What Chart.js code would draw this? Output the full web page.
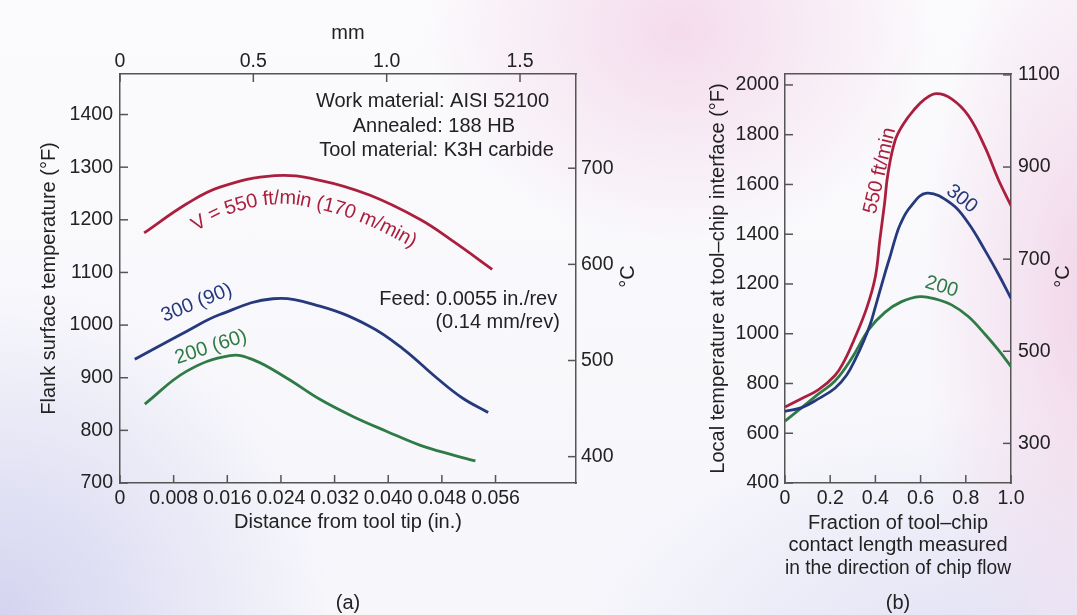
<!DOCTYPE html>
<html>
<head>
<meta charset="utf-8">
<script src="https://cdn.jsdelivr.net/npm/chart.js@4.4.1/dist/chart.umd.min.js"></script>
<style>
  html, body { margin: 0; padding: 0; }
  body {
    width: 1077px; height: 615px; overflow: hidden; position: relative;
    background:
      radial-gradient(ellipse 260px 220px at 680px 30px, rgba(243,214,233,0.85), rgba(243,214,233,0)),
      radial-gradient(ellipse 170px 420px at 1090px 300px, rgba(241,210,231,0.9), rgba(241,210,231,0)),
      radial-gradient(ellipse 330px 330px at 0px 615px, rgba(212,212,240,1), rgba(212,212,240,0)),
      radial-gradient(ellipse 380px 230px at 960px 640px, rgba(222,222,244,0.8), rgba(222,222,244,0)),
      linear-gradient(#fbfbfd, #f6f6fb);
  }
  canvas { position: absolute; top: 0; }
  #chartA { left: 0; }
  #chartB { left: 660px; }
</style>
</head>
<body>
<canvas id="chartA" width="660" height="615"></canvas>
<canvas id="chartB" width="417" height="615"></canvas>
<script>
// (a) flank surface temperature (°F) vs distance from tool tip (in.)
const distA550 = [0.0036, 0.0099, 0.0149, 0.0231, 0.0298, 0.0372, 0.0447, 0.0496, 0.0555];
const flankA550 = [1175, 1230, 1262, 1284, 1275, 1247, 1201, 1160, 1106];
const distA300 = [0.0022, 0.0099, 0.0149, 0.0228, 0.0298, 0.0372, 0.0422, 0.0472, 0.0510, 0.0549];
const flankA300 = [935, 988, 1020, 1050, 1036, 998, 955, 900, 862, 834];
const distA200 = [0.0037, 0.0099, 0.0164, 0.0199, 0.0249, 0.0298, 0.0348, 0.0398, 0.0447, 0.0497, 0.0530];
const flankA200 = [850, 912, 942, 934, 899, 859, 826, 798, 772, 753, 742];

// (b) local temperature (°F) vs fraction of tool-chip contact length
const fracB550 = [0, 0.07, 0.147, 0.221, 0.262, 0.302, 0.361, 0.40, 0.42, 0.44, 0.455, 0.487, 0.524, 0.568, 0.62, 0.671, 0.737, 0.811, 0.885, 0.944, 1.0];
const tempB550 = [705, 738, 774, 832, 890, 968, 1102, 1230, 1380, 1520, 1640, 1776, 1843, 1897, 1944, 1965, 1944, 1877, 1750, 1620, 1515];
const fracB300 = [0, 0.074, 0.147, 0.221, 0.273, 0.313, 0.347, 0.376, 0.398, 0.44, 0.468, 0.487, 0.51, 0.553, 0.627, 0.737, 0.811, 0.885, 0.944, 1.0];
const tempB300 = [688, 703, 738, 781, 834, 901, 968, 1035, 1102, 1236, 1320, 1380, 1440, 1508, 1565, 1522, 1445, 1335, 1240, 1142];
const fracB200 = [0, 0.074, 0.147, 0.221, 0.295, 0.369, 0.442, 0.516, 0.597, 0.664, 0.737, 0.811, 0.885, 0.944, 1.0];
const tempB200 = [649, 703, 757, 810, 901, 1015, 1086, 1129, 1149, 1140, 1116, 1069, 998, 935, 868];

// tick values and labels
const ticksInA = [0, 0.008, 0.016, 0.024, 0.032, 0.040, 0.048, 0.056];
const labelsInA = ['0', '0.008', '0.016', '0.024', '0.032', '0.040', '0.048', '0.056'];
const ticksMmA = [0, 0.5, 1.0, 1.5];
const labelsMmA = ['0', '0.5', '1.0', '1.5'];
const ticksFA = [700, 800, 900, 1000, 1100, 1200, 1300, 1400];
const ticksCA = [400, 500, 600, 700];
const ticksFracB = [0, 0.2, 0.4, 0.6, 0.8, 1.0];
const labelsFracB = ['0', '0.2', '0.4', '0.6', '0.8', '1.0'];
const ticksFB = [400, 600, 800, 1000, 1200, 1400, 1600, 1800, 2000];
const ticksCB = [300, 500, 700, 900, 1100];

const RED = '#ab1f3e', BLUE = '#25397c', GREEN = '#2e7b46';
const INK = '#222222', AXIS = '#555555';
const FONT = "'Liberation Sans', Arial, Helvetica, sans-serif";
const TICK = 8;

Chart.defaults.font.family = FONT;
Chart.defaults.font.size = 19.5;
Chart.defaults.color = INK;

function pairs(xs, ys) {
  return xs.map((x, i) => ({x: x, y: ys[i]}));
}

function line(xs, ys, color) {
  return {data: pairs(xs, ys), borderColor: color, borderWidth: 2.8, pointRadius: 0,
    tension: 0.4, fill: false};
}

function linAxis(o) {
  const ax = {
    type: 'linear', position: o.pos, min: o.min, max: o.max,
    grid: {display: false, drawTicks: false},
    border: {display: true, color: AXIS, width: 1.5},
    afterFit: s => { if (s.isHorizontal()) s.height = o.size; else s.width = o.size; },
    ticks: {display: !!o.ticks, padding: o.pad || 0, autoSkip: false, maxRotation: 0, color: INK,
      callback: (v, i) => o.labels ? o.labels[i] : String(v)},
    title: o.title ? {display: true, text: o.title, color: INK, padding: o.titlePad,
      font: {size: 20, lineHeight: o.titleLH || 1.2}} : {display: false}
  };
  if (o.ticks) ax.afterBuildTicks = s => { s.ticks = o.ticks.map(v => ({value: v})); };
  return ax;
}

// tick marks pointing into the plot
const innerTicks = {
  id: 'innerTicks',
  afterDraw(chart) {
    const ctx = chart.ctx, a = chart.chartArea;
    ctx.save();
    ctx.strokeStyle = AXIS;
    ctx.lineWidth = 1.5;
    Object.values(chart.scales).forEach(s => {
      if (!s.options.ticks.display) return;
      s.ticks.forEach(t => {
        const p = s.getPixelForValue(t.value);
        ctx.beginPath();
        if (s.position === 'left') { ctx.moveTo(a.left, p); ctx.lineTo(a.left + TICK, p); }
        if (s.position === 'right') { ctx.moveTo(a.right, p); ctx.lineTo(a.right - TICK, p); }
        if (s.position === 'bottom') { ctx.moveTo(p, a.bottom); ctx.lineTo(p, a.bottom - TICK); }
        if (s.position === 'top') { ctx.moveTo(p, a.top); ctx.lineTo(p, a.top + TICK); }
        ctx.stroke();
      });
    });
    ctx.restore();
  }
};

// lay a label along a dataset's drawn curve, shifted below it
function drawAlongCurve(chart, b) {
  const ctx = chart.ctx;
  const pts = chart.getDatasetMeta(b.dataset).data;
  const raw = [];
  for (let i = 0; i < pts.length - 1; i++) {
    const p = pts[i], q = pts[i + 1];
    const ax = p.cp2x ?? p.x, ay = p.cp2y ?? p.y, bx = q.cp1x ?? q.x, by = q.cp1y ?? q.y;
    for (let k = 0; k < 30; k++) {
      const t = k / 30, u = 1 - t;
      raw.push([u*u*u*p.x + 3*u*u*t*ax + 3*u*t*t*bx + t*t*t*q.x,
                u*u*u*p.y + 3*u*u*t*ay + 3*u*t*t*by + t*t*t*q.y]);
    }
  }
  const last = pts[pts.length - 1];
  raw.push([last.x, last.y]);
  const path = raw.map((r, j) => {
    const a = raw[Math.max(j - 2, 0)], c = raw[Math.min(j + 2, raw.length - 1)];
    const dx = c[0] - a[0], dy = c[1] - a[1], len = Math.hypot(dx, dy) || 1;
    return [r[0] - dy / len * b.offset, r[1] + dx / len * b.offset];
  });
  const dist = [0];
  for (let j = 1; j < path.length; j++) {
    dist.push(dist[j - 1] + Math.hypot(path[j][0] - path[j - 1][0], path[j][1] - path[j - 1][1]));
  }
  const cx = chart.scales.x.getPixelForValue(b.x);
  const jc = Math.max(path.findIndex(p => p[0] >= cx), 0);
  const total = ctx.measureText(b.text).width;
  ctx.fillStyle = b.color;
  ctx.textAlign = 'center';
  for (let i = 0; i < b.text.length; i++) {
    const ch = b.text[i];
    const s = dist[jc] - total / 2 + ctx.measureText(b.text.slice(0, i)).width + ctx.measureText(ch).width / 2;
    let j = 1;
    while (j < dist.length - 1 && dist[j] < s) j++;
    const f = (s - dist[j - 1]) / ((dist[j] - dist[j - 1]) || 1);
    const x = path[j - 1][0] + f * (path[j][0] - path[j - 1][0]);
    const y = path[j - 1][1] + f * (path[j][1] - path[j - 1][1]);
    const p0 = path[Math.max(j - 4, 0)], p1 = path[Math.min(j + 3, path.length - 1)];
    ctx.save();
    ctx.translate(x, y);
    ctx.rotate(Math.atan2(p1[1] - p0[1], p1[0] - p0[0]));
    ctx.fillText(ch, 0, 0);
    ctx.restore();
  }
}

function notesPlugin(notes, bends, caption, sideGap) {
  return {
    id: 'notes',
    afterDatasetsDraw(chart) {
      const ctx = chart.ctx, xs = chart.scales.x, ys = chart.scales.y;
      const a = chart.chartArea;
      ctx.save();
      ctx.font = '20px ' + FONT;
      ctx.textBaseline = 'middle';
      notes.forEach(n => {
        ctx.save();
        ctx.translate(xs.getPixelForValue(n.x), ys.getPixelForValue(n.y));
        ctx.rotate((n.rot || 0) * Math.PI / 180);
        ctx.fillStyle = n.color || INK;
        ctx.textAlign = n.align || 'center';
        ctx.fillText(n.text, 0, 0);
        ctx.restore();
      });
      bends.forEach(b => drawAlongCurve(chart, b));
      ctx.fillStyle = INK;
      ctx.textAlign = 'center';
      ctx.fillText(caption, (a.left + a.right) / 2, chart.height - 12);
      // right-hand axis title, read from bottom to top
      ctx.save();
      ctx.translate(chart.scales.y1.right - sideGap, (a.top + a.bottom) / 2 - 2);
      ctx.rotate(-Math.PI / 2);
      ctx.fillText('°C', 0, 0);
      ctx.restore();
      ctx.restore();
    }
  };
}

const baseOptions = {
  responsive: false,
  animation: false,
  layout: {padding: 0},
  plugins: {legend: {display: false}, tooltip: {enabled: false}}
};

new Chart(document.getElementById('chartA'), {
  type: 'line',
  data: {datasets: [
    line(distA550, flankA550, RED),
    line(distA300, flankA300, BLUE),
    line(distA200, flankA200, GREEN)
  ]},
  options: Object.assign({}, baseOptions, {
    scales: {
      x: linAxis({pos: 'bottom', min: 0, max: 0.068, ticks: ticksInA, labels: labelsInA, pad: 4, size: 132,
        title: 'Distance from tool tip (in.)', titlePad: {top: 0, bottom: 81}}),
      x2: linAxis({pos: 'top', min: 0, max: 1.71, ticks: ticksMmA, labels: labelsMmA, pad: 1, size: 74,
        title: 'mm', titlePad: {top: 21, bottom: 0}}),
      y: linAxis({pos: 'left', min: 700, max: 1477, ticks: ticksFA, pad: 7, size: 120,
        title: 'Flank surface temperature (°F)', titlePad: {top: 37, bottom: 0}}),
      y1: linAxis({pos: 'right', min: 372.6, max: 798, ticks: ticksCA, pad: 5, size: 84})
    }
  }),
  plugins: [innerTicks, notesPlugin([
    {text: 'Work material: AISI 52100', x: 0.0466, y: 1425},
    {text: 'Annealed: 188 HB', x: 0.0468, y: 1377},
    {text: 'Tool material: K3H carbide', x: 0.0472, y: 1331},
    {text: 'Feed: 0.0055 in./rev', x: 0.0652, y: 1048, align: 'right'},
    {text: '(0.14 mm/rev)', x: 0.0656, y: 1005, align: 'right'},
    {text: '300 (90)', x: 0.01144, y: 1042, color: BLUE, rot: -22},
    {text: '200 (60)', x: 0.01357, y: 958, color: GREEN, rot: -18}
  ], [
    {text: 'V = 550 ft/min (170 m/min)', dataset: 0, x: 0.0275, offset: 23, color: RED}
  ], '(a)', 32)]
});

new Chart(document.getElementById('chartB'), {
  type: 'line',
  data: {datasets: [
    line(fracB550, tempB550, RED),
    line(fracB300, tempB300, BLUE),
    line(fracB200, tempB200, GREEN)
  ]},
  options: Object.assign({}, baseOptions, {
    scales: {
      x: linAxis({pos: 'bottom', min: 0, max: 1, ticks: ticksFracB, labels: labelsFracB, pad: 4, size: 132,
        title: ['Fraction of tool–chip', 'contact length measured', 'in the direction of chip flow'],
        titlePad: {top: 0, bottom: 35.5}, titleLH: 1.13}),
      x2: linAxis({pos: 'top', min: 0, max: 1, size: 74}),
      y: linAxis({pos: 'left', min: 400, max: 2044, ticks: ticksFB, pad: 6, size: 125,
        title: 'Local temperature at tool–chip interface (°F)', titlePad: {top: 46, bottom: 0}}),
      y1: linAxis({pos: 'right', min: 214, max: 1102, ticks: ticksCB, pad: 7, size: 66})
    }
  }),
  plugins: [innerTicks, notesPlugin([
    {text: '550 ft/min', x: 0.42, y: 1655, color: RED, rot: -77},
    {text: '300', x: 0.782, y: 1542, color: BLUE, rot: 38},
    {text: '200', x: 0.693, y: 1188, color: GREEN, rot: 17}
  ], [], '(b)', 14)]
});
</script>
</body>
</html>
